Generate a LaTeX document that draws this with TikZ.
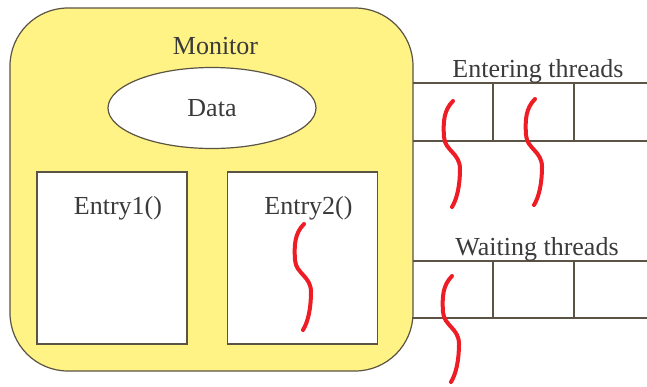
\documentclass[tikz,border=0pt]{standalone}
\usepackage{fontspec}
\setmainfont{Liberation Serif}
\usetikzlibrary{shapes.geometric,calc}

\definecolor{monfill}{HTML}{FFF385}
\definecolor{edge}{HTML}{5B5343}
\definecolor{inkgray}{HTML}{3A3A3A}
\definecolor{thread}{HTML}{EE1C24}

\tikzset{
  every node/.style={text=inkgray,font=\rmfamily\fontsize{26}{30}\selectfont},
  monbox/.style={draw=edge,line width=1.2pt,fill=monfill,rounded corners=58pt,
    minimum width=403pt,minimum height=363pt,inner sep=0pt},
  entrybox/.style={draw=edge,line width=1.2pt,fill=white,
    minimum width=150pt,minimum height=172pt,inner sep=0pt},
  dataoval/.style={draw=edge,line width=1.2pt,fill=white,ellipse,
    minimum width=208pt,minimum height=81pt,inner sep=0pt},
  qline/.style={draw=edge,line width=1.2pt},
  threadline/.style={draw=thread,line width=4pt,line cap=round}
}

\begin{document}
\begin{tikzpicture}[x=1pt,y=-1pt]
  \useasboundingbox (0,0) rectangle (647,386);

  \node (Mon) [monbox] at (211.5,189.5) {};
  \node (MonT) at ($(Mon.north)+(4,39)$) {Monitor};
  \node (Data) [dataoval] at (212,108) {Data};
  \node (E1) [entrybox] at (112,258) {};
  \node (E1T) at ($(E1.north)+(6,37)$) {Entry1()};
  \node (E2) [entrybox] at ($(E1)+(190.5,0)$) {};
  \node (E2T) at ($(E2.north)+(6,37)$) {Entry2()};

  % queue of entering threads
  \coordinate (Q1a) at (413,83);
  \coordinate (Q1b) at (413,141);
  \coordinate (Q1c) at (647,83);
  \coordinate (Q1d) at (647,141);
  \path[qline] (Q1a) -- (Q1c) (Q1b) -- (Q1d);
  \foreach \xx in {493,574}
    \path[qline] (\xx,83) -- (\xx,141);
  \node (Q1T) at ($(Q1a)!0.5!(Q1c)+(8,-12)$) {Entering threads};

  % queue of waiting threads
  \coordinate (Q2a) at (413,261);
  \coordinate (Q2b) at (413,318);
  \coordinate (Q2c) at (647,261);
  \coordinate (Q2d) at (647,318);
  \path[qline] (Q2a) -- (Q2c) (Q2b) -- (Q2d);
  \foreach \xx in {493,574}
    \path[qline] (\xx,261) -- (\xx,318);
  \node (Q2T) at ($(Q2a)!0.5!(Q2c)+(7,-12)$) {Waiting threads};

  % threads
  \foreach \tx/\ty in {304/224, 453/101, 535/99, 452/276}
    \path[threadline,shift={(\tx,\ty)}] (0,0)
      .. controls (-9,9) and (-10,20) .. (-9,36)
      .. controls (-8,50) and (7,52) .. (7,68)
      .. controls (7,84) and (4,98) .. (-1,106);
\end{tikzpicture}
\end{document}
